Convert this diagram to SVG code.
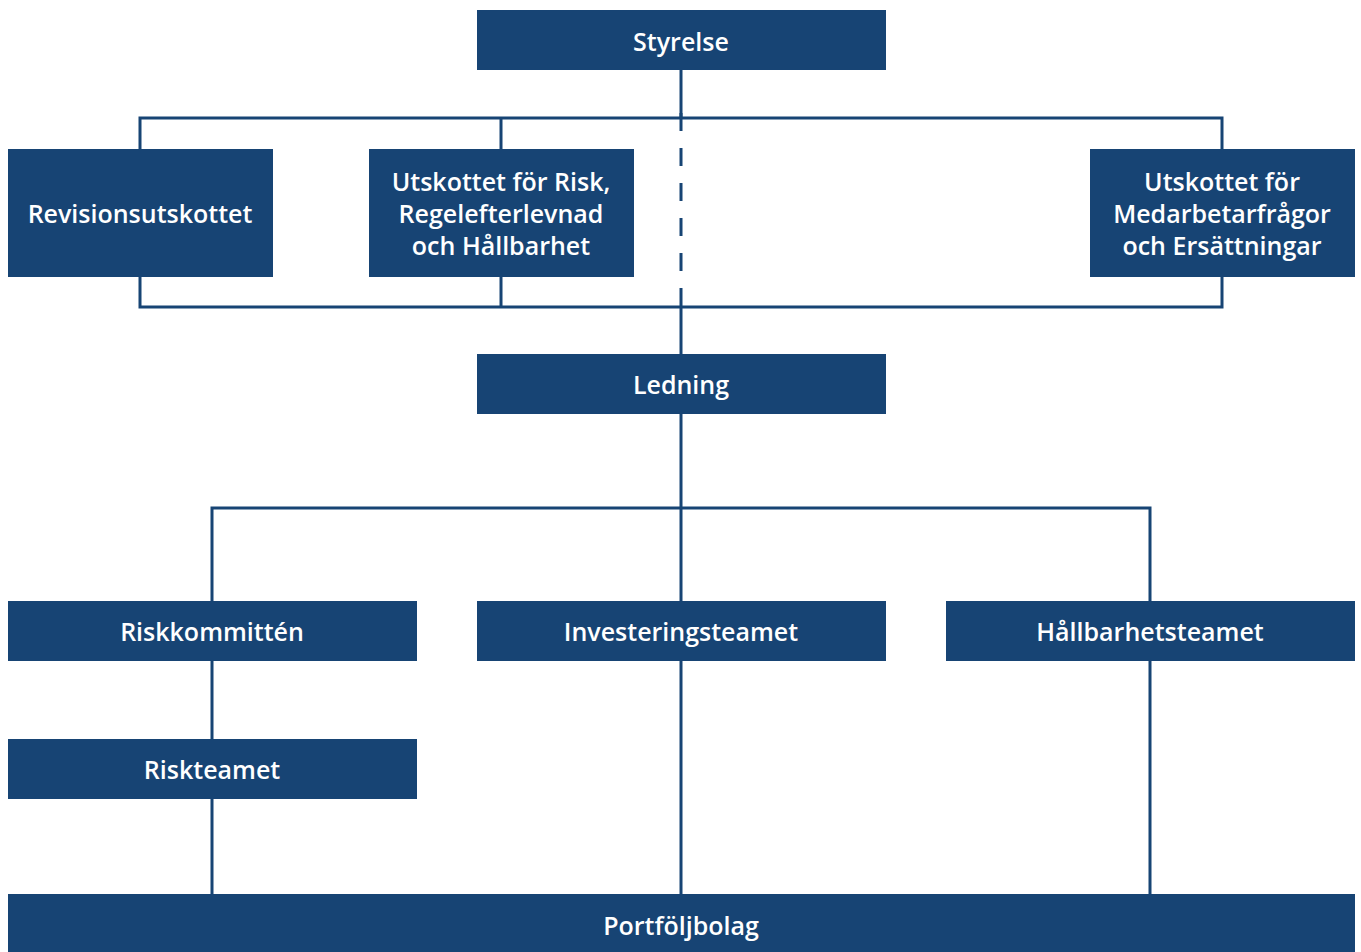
<svg xmlns="http://www.w3.org/2000/svg" width="1361" height="952" viewBox="0 0 1361 952">
<style>
.box{fill:#174474}
.lbl{font-family:"Open Sans","Liberation Sans",sans-serif;font-weight:600;font-size:25px;fill:#ffffff;text-anchor:middle;dominant-baseline:central}
.ln{stroke:#174474;stroke-width:3;fill:none}
.dash{stroke:#174474;stroke-width:3;fill:none;stroke-dasharray:18 17}
</style>
<rect width="1361" height="952" fill="#ffffff"/>
<g id="connectors">
<path class="ln" d="M681,70 V118 M140,149 V118 H1222 V149 M501,118 V149"/>
<path class="dash" d="M681,113 V307"/>
<path class="ln" d="M140,277 V307 H1222 V277 M501,277 V307 M681,307 V354"/>
<path class="ln" d="M681,414 V601 M212,601 V508 H1150 V601"/>
<path class="ln" d="M212,661 V739 M212,799 V894 M681,661 V894 M1150,661 V894"/>
</g>
<g id="styrelse"><rect class="box" x="477" y="10" width="409" height="60"/><text class="lbl" x="681" y="41">Styrelse</text></g>
<g id="revisionsutskottet"><rect class="box" x="8" y="149" width="265" height="128"/><text class="lbl" x="140" y="213">Revisionsutskottet</text></g>
<g id="utskottet-risk"><rect class="box" x="369" y="149" width="265" height="128"/><text class="lbl" x="501" y="181">Utskottet för Risk,</text><text class="lbl" x="501" y="213">Regelefterlevnad</text><text class="lbl" x="501" y="245">och Hållbarhet</text></g>
<g id="utskottet-medarbetare"><rect class="box" x="1090" y="149" width="265" height="128"/><text class="lbl" x="1222" y="181">Utskottet för</text><text class="lbl" x="1222" y="213">Medarbetarfrågor</text><text class="lbl" x="1222" y="245">och Ersättningar</text></g>
<g id="ledning"><rect class="box" x="477" y="354" width="409" height="60"/><text class="lbl" x="681" y="384">Ledning</text></g>
<g id="riskkommitten"><rect class="box" x="8" y="601" width="409" height="60"/><text class="lbl" x="212" y="631">Riskkommittén</text></g>
<g id="investeringsteamet"><rect class="box" x="477" y="601" width="409" height="60"/><text class="lbl" x="681" y="631">Investeringsteamet</text></g>
<g id="hallbarhetsteamet"><rect class="box" x="946" y="601" width="409" height="60"/><text class="lbl" x="1150" y="631">Hållbarhetsteamet</text></g>
<g id="riskteamet"><rect class="box" x="8" y="739" width="409" height="60"/><text class="lbl" x="212" y="769">Riskteamet</text></g>
<g id="portfoljbolag"><rect class="box" x="8" y="894" width="1347" height="58"/><text class="lbl" x="681" y="925">Portföljbolag</text></g>
</svg>
